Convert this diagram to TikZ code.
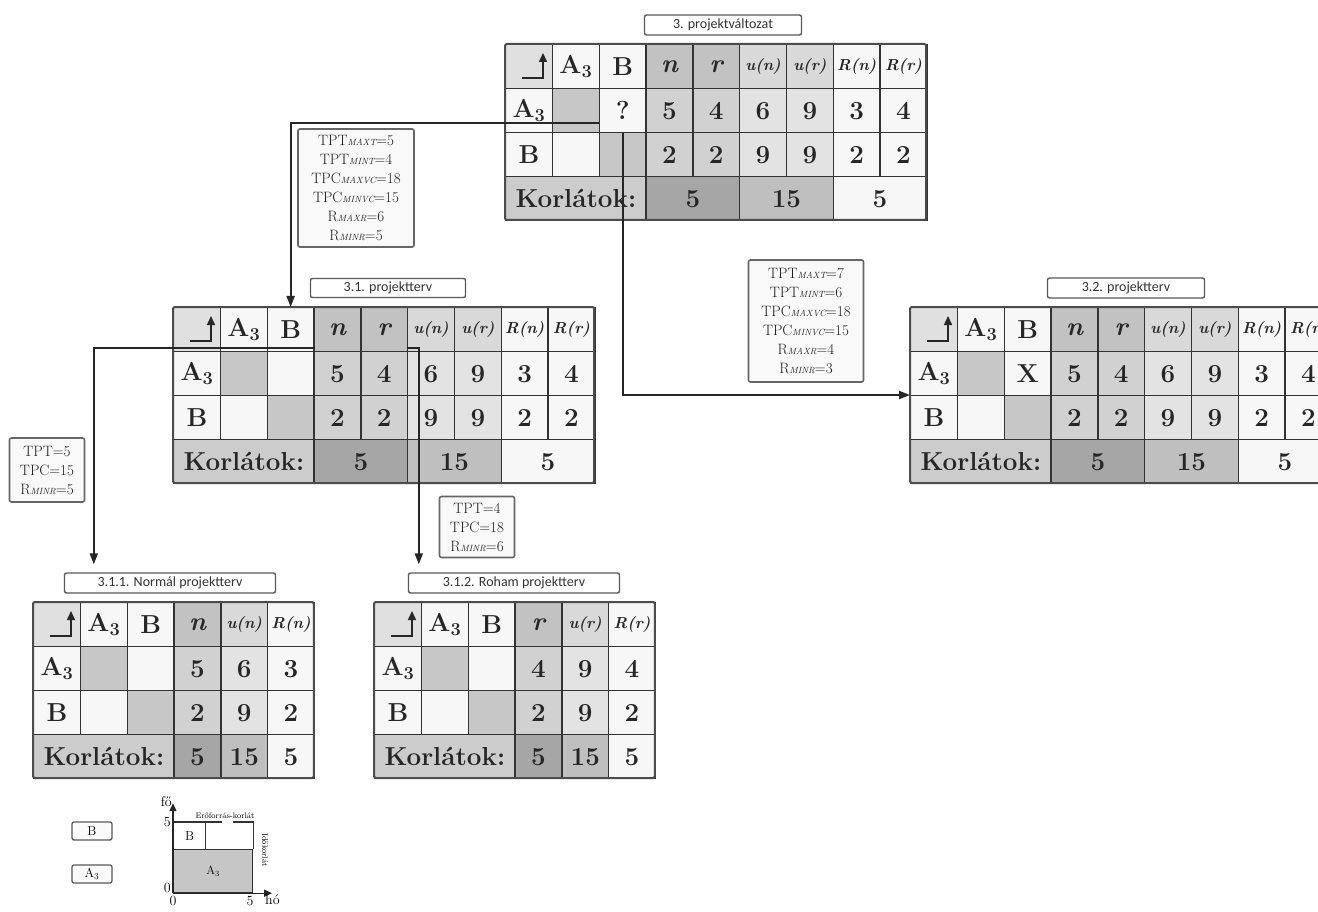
\documentclass[tikz,border=0pt]{standalone}
\usepackage{fontspec}
\newfontfamily\titlefont{Carlito}
\usetikzlibrary{arrows.meta,calc}
\definecolor{cW}{gray}{0.97}
\definecolor{cH}{gray}{0.88}
\definecolor{cD}{gray}{0.78}
\definecolor{cN}{gray}{0.76}
\definecolor{cNv}{gray}{0.82}
\definecolor{cU}{gray}{0.85}
\definecolor{cUv}{gray}{0.89}
\definecolor{cK}{gray}{0.80}
\definecolor{cKa}{gray}{0.65}
\definecolor{cKb}{gray}{0.75}
\newcommand\tabfont{\fontsize{26}{28}\selectfont\bfseries}
\newcommand\uh[1]{{\fontsize{16}{16}\selectfont\bfseries\itshape #1}}
\newcommand\sbs[1]{{\fontsize{9}{9}\selectfont\itshape #1}}
\tikzset{
  cellb/.style={draw=black!80, line width=1.3pt, inner sep=0pt, minimum height=44pt,
    anchor=north west, font=\tabfont, text=black!85},
  outerbox/.style={draw=black!70, line width=2pt, rounded corners=2pt},
  icon/.style={line width=1.5pt, black!85, -{Triangle[length=9pt,width=8pt]}},
  conn/.style={line width=1.8pt, black!85, -{Triangle[length=11pt,width=8pt]}},
  titlebox/.style={draw=black!65, line width=1.4pt, rounded corners=2pt, fill=white,
    inner sep=0pt, font=\titlefont\fontsize{14}{14}\selectfont, text=black!80},
  infobox/.style={draw=black!60, line width=1.6pt, rounded corners=2pt, fill=gray!5,
    inner sep=0pt, align=center, font=\fontsize{15}{19}\selectfont, text=black!88},
  legbox/.style={draw=black!65, line width=1.3pt, rounded corners=2pt, fill=gray!4,
    inner sep=0pt, minimum width=40pt, minimum height=18pt, font=\fontsize{13}{13}\selectfont}
}
\newcommand\cel[6]{\node[cellb, fill=#5, minimum width={#4*46.8pt}] (#1) at ({#2*46.8},{#3*44}) {#6};}
% big table: #1 prefix, #2 x, #3 y, #4 mark in A3/B cell
\newcommand\bigtab[4]{%
\begin{scope}[shift={(#2,#3)}]
\cel{#1-0-0}{0}{0}{1}{cH}{}
\cel{#1-0-1}{1}{0}{1}{cW}{A\textsubscript{3}}
\cel{#1-0-2}{2}{0}{1}{cW}{B}
\cel{#1-0-3}{3}{0}{1}{cN}{\itshape n}
\cel{#1-0-4}{4}{0}{1}{cN}{\itshape r}
\cel{#1-0-5}{5}{0}{1}{cU}{\uh{u(n)}}
\cel{#1-0-6}{6}{0}{1}{cU}{\uh{u(r)}}
\cel{#1-0-7}{7}{0}{1}{cW}{\uh{R(n)}}
\cel{#1-0-8}{8}{0}{1}{cW}{\uh{R(r)}}
\cel{#1-1-0}{0}{1}{1}{cW}{A\textsubscript{3}}
\cel{#1-1-1}{1}{1}{1}{cD}{}
\cel{#1-1-2}{2}{1}{1}{cW}{#4}
\cel{#1-1-3}{3}{1}{1}{cNv}{5}
\cel{#1-1-4}{4}{1}{1}{cNv}{4}
\cel{#1-1-5}{5}{1}{1}{cUv}{6}
\cel{#1-1-6}{6}{1}{1}{cUv}{9}
\cel{#1-1-7}{7}{1}{1}{cW}{3}
\cel{#1-1-8}{8}{1}{1}{cW}{4}
\cel{#1-2-0}{0}{2}{1}{cW}{B}
\cel{#1-2-1}{1}{2}{1}{cW}{}
\cel{#1-2-2}{2}{2}{1}{cD}{}
\cel{#1-2-3}{3}{2}{1}{cNv}{2}
\cel{#1-2-4}{4}{2}{1}{cNv}{2}
\cel{#1-2-5}{5}{2}{1}{cUv}{9}
\cel{#1-2-6}{6}{2}{1}{cUv}{9}
\cel{#1-2-7}{7}{2}{1}{cW}{2}
\cel{#1-2-8}{8}{2}{1}{cW}{2}
\cel{#1-3-0}{0}{3}{3}{cK}{Korlátok:}
\cel{#1-3-3}{3}{3}{2}{cKa}{5}
\cel{#1-3-5}{5}{3}{2}{cKb}{15}
\cel{#1-3-7}{7}{3}{2}{cW}{5}
\draw[outerbox] (0,0) rectangle ({9*46.8},176);
\draw[icon] ($(#1-0-0.north west)+(17,34)$) -- ++(21,0) -- ++(0,-25);
\end{scope}}
% small table: #1 prefix, #2 x, #3 y, #4 var, #5 #6 #7 A3 row values
\newcommand\smalltab[7]{%
\begin{scope}[shift={(#2,#3)}]
\cel{#1-0-0}{0}{0}{1}{cH}{}
\cel{#1-0-1}{1}{0}{1}{cW}{A\textsubscript{3}}
\cel{#1-0-2}{2}{0}{1}{cW}{B}
\cel{#1-0-3}{3}{0}{1}{cN}{\itshape #4}
\cel{#1-0-4}{4}{0}{1}{cU}{\uh{u(#4)}}
\cel{#1-0-5}{5}{0}{1}{cW}{\uh{R(#4)}}
\cel{#1-1-0}{0}{1}{1}{cW}{A\textsubscript{3}}
\cel{#1-1-1}{1}{1}{1}{cD}{}
\cel{#1-1-2}{2}{1}{1}{cW}{}
\cel{#1-1-3}{3}{1}{1}{cNv}{#5}
\cel{#1-1-4}{4}{1}{1}{cUv}{#6}
\cel{#1-1-5}{5}{1}{1}{cW}{#7}
\cel{#1-2-0}{0}{2}{1}{cW}{B}
\cel{#1-2-1}{1}{2}{1}{cW}{}
\cel{#1-2-2}{2}{2}{1}{cD}{}
\cel{#1-2-3}{3}{2}{1}{cNv}{2}
\cel{#1-2-4}{4}{2}{1}{cUv}{9}
\cel{#1-2-5}{5}{2}{1}{cW}{2}
\cel{#1-3-0}{0}{3}{3}{cK}{Korlátok:}
\cel{#1-3-3}{3}{3}{1}{cKa}{5}
\cel{#1-3-4}{4}{3}{1}{cKb}{15}
\cel{#1-3-5}{5}{3}{1}{cW}{5}
\draw[outerbox] (0,0) rectangle ({6*46.8},176);
\draw[icon] ($(#1-0-0.north west)+(17,34)$) -- ++(21,0) -- ++(0,-25);
\end{scope}}
\begin{document}
\begin{tikzpicture}[x=1pt,y=-1pt]
\path[use as bounding box, fill=white] (0,0) rectangle (1318,912);
\begin{scope}
\clip (0,0) rectangle (1318,912);
% tables
\bigtab{T}{505}{44}{?}
\bigtab{S}{173}{307}{}
\bigtab{U}{910}{307}{X}
\smalltab{N}{33}{602}{n}{5}{6}{3}
\smalltab{R}{374}{602}{r}{4}{9}{4}
% titles
\node[titlebox, minimum width=157pt, minimum height=20pt] (T-title) at (723,25) {3. projektváltozat};
\node[titlebox, minimum width=155pt, minimum height=19pt] (S-title) at (388,288) {3.1. projektterv};
\node[titlebox, minimum width=157pt, minimum height=20pt] (U-title) at (1126,288) {3.2. projektterv};
\node[titlebox, minimum width=211pt, minimum height=20pt] (N-title) at (170,583) {3.1.1. Normál projektterv};
\node[titlebox, minimum width=211pt, minimum height=20pt] (R-title) at (514,583) {3.1.2. Roham projektterv};
% info boxes
\node[infobox, minimum width=116pt, minimum height=118pt] (box1) at (356,188)
  {TPT\sbs{MAXT}=5\\TPT\sbs{MINT}=4\\TPC\sbs{MAXVC}=18\\TPC\sbs{MINVC}=15\\R\sbs{MAXR}=6\\R\sbs{MINR}=5};
\node[infobox, minimum width=115pt, minimum height=122pt] (box2) at (806,321)
  {TPT\sbs{MAXT}=7\\TPT\sbs{MINT}=6\\TPC\sbs{MAXVC}=18\\TPC\sbs{MINVC}=15\\R\sbs{MAXR}=4\\R\sbs{MINR}=3};
\node[infobox, minimum width=75pt, minimum height=64pt] (box3) at (47,470)
  {TPT=5\\TPC=15\\R\sbs{MINR}=5};
\node[infobox, minimum width=75pt, minimum height=61pt] (box4) at (477,527)
  {TPT=4\\TPC=18\\R\sbs{MINR}=6};
% connectors
\coordinate (c1) at ($(N-title.north west)+(30,-8)$);
\coordinate (c2) at ($(R-title.north west)+(11,-8)$);
\draw[conn] ($(T-1-2.south west)+(0,-10)$) -| (S-0-2.north);
\draw[conn] (T-1-2.south) |- (U-2-0.north west);
\draw[conn] ($(S-0-2.south east)+(0,-4)$) -| (c1);
\draw[conn] ($(S-0-5.south west)+(0,-4)$) -| (c2);
% legend
\node[legbox] (legB) at (92,831) {B};
\node[legbox] (legA) at (92,874) {A\textsubscript{3}};
\begin{scope}[font=\fontsize{14}{14}\selectfont]
\node[draw=black!80, line width=1.2pt, fill=gray!45, minimum width=79pt, minimum height=43pt,
  inner sep=0pt, anchor=north west, font=\fontsize{12}{12}\selectfont] (chA) at (173,849) {A\textsubscript{3}};
\node[draw=black!80, line width=1.2pt, fill=white, minimum width=32pt, minimum height=27pt,
  inner sep=0pt, anchor=north west, font=\fontsize{13}{13}\selectfont] (chB) at (173,822) {B};
\draw[line width=1.3pt, black!80, dash pattern=on 49pt off 11pt] (chB.north west) -- (chA.north east |- chB.north) -- (chA.north east);
\draw[line width=1.3pt, black!85, -{Triangle[length=8pt,width=7pt]}] (chA.south west) -- ++(0,-90);
\draw[line width=1.3pt, black!85, -{Triangle[length=8pt,width=7pt]}] (chA.south west) -- ++(99,0);
\node[anchor=east, inner sep=1pt] (fo) at (173,802) {fő};
\node[anchor=east, inner sep=2pt] (y5) at (173,822) {5};
\node[anchor=east, inner sep=2pt] (y0) at (173,888) {0};
\node[anchor=north, inner sep=1pt] (x0) at (173,895) {0};
\node[anchor=north, inner sep=1pt] (x5) at (250,895) {5};
\node[anchor=north west, inner sep=1pt] (ho) at (264,894) {hó};
\node[font=\fontsize{8}{8}\selectfont, anchor=south, inner sep=1pt] (erk) at (225,820) {Erőforrás-korlát};
\node[font=\fontsize{8}{8}\selectfont, rotate=-90, inner sep=1pt] (idk) at (265,850) {Időkorlát};
\end{scope}
\end{scope}
\end{tikzpicture}
\end{document}
